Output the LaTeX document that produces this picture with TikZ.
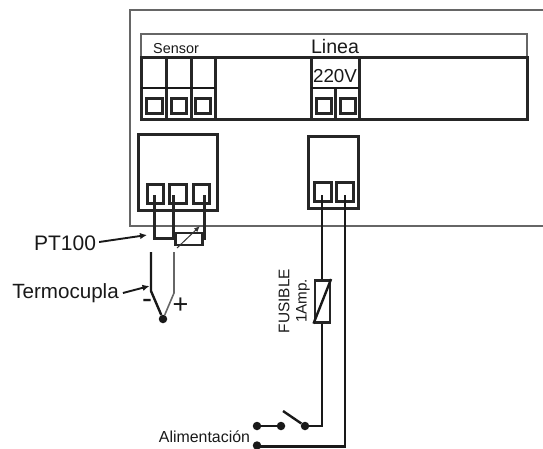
\documentclass[tikz,border=0pt]{standalone}
\usepackage{fontspec}
\usetikzlibrary{arrows.meta}
\setmainfont{Liberation Sans}
\tikzset{
	thick line/.style={line width=2.4pt, draw=black!90},
	bold line/.style={line width=3pt, draw=black!85},
	thin line/.style={line width=1.1pt, draw=black!60},
	terminal/.style={circle, fill=black!90, inner sep=0pt, minimum size=8.5pt},
	label/.style={inner sep=0pt, text=black!90},
	pointer/.style={line width=1.9pt, draw=black!90, -{Latex[length=7pt,width=6.5pt]}}
}
\begin{document}
\begin{tikzpicture}[x=1pt, y=-1pt]
	\useasboundingbox ( 0, 0 ) rectangle ( 543, 448 );

	% carcasa
	\draw [thin line] ( 543, 10 ) -- ( 130, 10 ) -- ( 130, 226 ) -- ( 543, 226 );

	% regleta superior
	\draw [thin line] ( 141, 57 ) -- ( 141, 34 ) -- ( 527, 34 ) -- ( 527, 57 );
	\draw [bold line] ( 141, 57 ) rectangle ( 527, 119 );
	\node [label, font=\fontsize{14.4}{14}\selectfont] (sensor) at ( 176, 49 ) {Sensor};
	\node [label, font=\fontsize{19.6}{20}\selectfont] (linea) at ( 335, 46 ) {Linea};
	\node [label, font=\fontsize{18.8}{19}\selectfont] (volt) at ( 335, 76 ) {220V};

	% bornes del sensor
	\draw [bold line] ( 166, 57 ) -- ( 166, 119 );
	\draw [bold line] ( 191, 57 ) -- ( 191, 119 );
	\draw [bold line] ( 215, 57 ) -- ( 215, 119 );
	\draw [thick line] ( 141, 88 ) -- ( 215, 88 );
	\draw [bold line] ( 146, 98 ) rectangle ( 162, 113 );
	\draw [bold line] ( 171, 98 ) rectangle ( 186, 113 );
	\draw [bold line] ( 195, 98 ) rectangle ( 210, 113 );

	% bornes de linea
	\draw [bold line] ( 311, 57 ) -- ( 311, 119 );
	\draw [bold line] ( 335, 88 ) -- ( 335, 119 );
	\draw [bold line] ( 359, 57 ) -- ( 359, 119 );
	\draw [thick line] ( 311, 88 ) -- ( 359, 88 );
	\draw [bold line] ( 316, 98 ) rectangle ( 331, 113 );
	\draw [bold line] ( 340, 98 ) rectangle ( 355, 113 );

	% conector del sensor
	\draw [bold line] ( 138, 134 ) rectangle ( 217, 210 );
	\draw [bold line] ( 147, 184 ) rectangle ( 163, 203 );
	\draw [bold line] ( 169, 184 ) rectangle ( 186, 203 );
	\draw [bold line] ( 193, 184 ) rectangle ( 209, 203 );

	% conector de linea
	\draw [bold line] ( 308, 136 ) rectangle ( 358, 208 );
	\draw [bold line] ( 314, 182 ) rectangle ( 331, 201 );
	\draw [bold line] ( 336, 182 ) rectangle ( 353, 201 );

	% PT100
	\coordinate (borneA) at ( 154, 195 );
	\coordinate (borneB) at ( 173, 195 );
	\coordinate (borneC) at ( 204, 195 );
	\node [draw, line width=2.6pt, draw=black!85, fill=white, minimum width=27pt, minimum height=12pt, inner sep=0pt] (pt) at ( 189, 239 ) {};
	\draw [bold line] (borneA) |- ( 173, 238.5 ) -- (borneB);
	\draw [bold line] (borneC) -- ( 204, 238.5 ) -- (pt.east |- 0, 238.5);
	\coordinate (trimA) at ( 177, 248 );
	\coordinate (trimB) at ( 200, 226 );
	\draw [line width=1pt, draw=black!80, -{Latex[length=6pt,width=5pt]}] (trimA) -- (trimB);
	\node [label, font=\fontsize{21}{21}\selectfont] (ptlabel) at ( 65, 243 ) {PT100};
	\coordinate (ptend) at ( 147, 235 );
	\draw [pointer] (ptlabel.east) ++ ( 3, -1 ) -- (ptend);

	% termocupla
	\node [terminal] (junta) at ( 163, 319 ) {};
	\draw [thick line] ( 151, 252 ) -- ( 151, 291 ) -- (junta);
	\draw [thin line, line width=1.6pt] ( 174, 252 ) -- ( 174, 293 ) -- (junta);
	\node [label, font=\fontsize{20.6}{21}\selectfont] (tclabel) at ( 65.5, 293 ) {Termocupla};
	\coordinate (tcend) at ( 149.5, 286 );
	\draw [pointer] (tclabel.east) ++ ( 4, 0 ) -- (tcend);
	\node [label, font=\fontsize{30}{30}\selectfont] (menos) at ( 147, 304 ) {-};
	\node [label, font=\fontsize{27}{27}\selectfont] (mas) at ( 180.5, 306 ) {+};

	% fusible y alimentacion
	\node [draw, line width=2.6pt, draw=black!85, minimum width=15pt, minimum height=42pt, inner sep=0pt] (fusible) at ( 322.3, 301.3 ) {};
	\draw [thick line] (fusible.south west) -- (fusible.north east);
	\node [label, rotate=90, font=\fontsize{15.4}{16}\selectfont] (fuslabel) at ( 284, 301 ) {FUSIBLE};
	\node [label, rotate=90, font=\fontsize{15.2}{16}\selectfont] (amplabel) at ( 303, 301 ) {1Amp.};
	\node [terminal] (redA) at ( 257, 426 ) {};
	\node [terminal] (redB) at ( 281, 426 ) {};
	\node [terminal] (llave) at ( 305, 426 ) {};
	\node [terminal] (neutro) at ( 257, 445.5 ) {};
	\coordinate (brazo) at ( 283, 411 );
	\draw [thick line] (redA) -- (redB);
	\draw [thick line] (llave) -- (brazo);
	\draw [thick line] (llave) -- ( 322, 426 ) -- (fusible.south -| 322, 0);
	\draw [thick line] (fusible.north -| 322, 0) -- ( 322, 195 );
	\draw [thick line] (neutro.center) ++ ( 0, 1 ) -- ( 345, 446.5 ) -- ( 345, 195 );
	\node [label, font=\fontsize{15.9}{16}\selectfont] (alim) at ( 204.5, 437 ) {Alimentación};
\end{tikzpicture}
\end{document}
